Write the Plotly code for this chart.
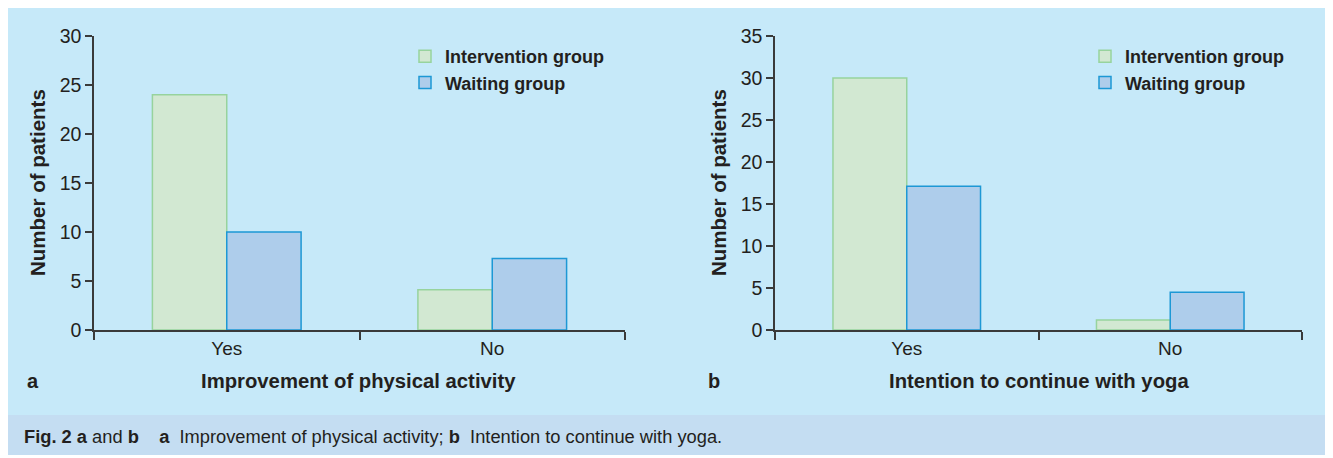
import plotly.graph_objects as go

categories = ["Yes", "No"]
a_intervention = [24, 4.1]
a_waiting = [10, 7.3]
b_intervention = [30, 1.2]
b_waiting = [17.1, 4.5]
a_yticks = [0, 5, 10, 15, 20, 25, 30]
b_yticks = [0, 5, 10, 15, 20, 25, 30, 35]

# page is offset by the default 8px body margin
OFF = 8
W, H = 1325, 450
FONT = "Liberation Sans, Arial, sans-serif"
TXT = "#231f20"
GREEN_FILL, GREEN_LINE = "#d2e8d2", "#97d39d"
BLUE_FILL, BLUE_LINE = "#aecdeb", "#1d98d5"
PANEL = "#c6e9f9"
CAPBAND = "#c4ddf2"

def px_x(x):
    return (x - OFF) / W

def px_y(y):
    return 1 - (y - OFF) / H

fig = go.Figure()

fig.add_trace(go.Bar(x=categories, y=a_intervention, name="Intervention group",
                     marker=dict(color=GREEN_FILL, line=dict(color=GREEN_LINE, width=1.5)),
                     xaxis="x", yaxis="y", legend="legend"))
fig.add_trace(go.Bar(x=categories, y=a_waiting, name="Waiting group",
                     marker=dict(color=BLUE_FILL, line=dict(color=BLUE_LINE, width=1.5)),
                     xaxis="x", yaxis="y", legend="legend"))
fig.add_trace(go.Bar(x=categories, y=b_intervention, name="Intervention group",
                     marker=dict(color=GREEN_FILL, line=dict(color=GREEN_LINE, width=1.5)),
                     xaxis="x2", yaxis="y2", legend="legend2"))
fig.add_trace(go.Bar(x=categories, y=b_waiting, name="Waiting group",
                     marker=dict(color=BLUE_FILL, line=dict(color=BLUE_LINE, width=1.5)),
                     xaxis="x2", yaxis="y2", legend="legend2"))

ydom = [px_y(330), px_y(36)]
xax = dict(type="category", showline=True, linecolor="#3a3a3a", linewidth=1.5,
           ticks="outside", tickson="boundaries", ticklen=8, tickcolor="#3a3a3a", tickwidth=1.5,
           tickfont=dict(family=FONT, size=19, color=TXT), showgrid=False, zeroline=False,
           range=[-0.5, 1.5], fixedrange=True, automargin=False)
yax = dict(showline=True, linecolor="#3a3a3a", linewidth=1.5, ticks="outside", ticklen=7,
           tickcolor="#3a3a3a", tickwidth=1.5, tickfont=dict(family=FONT, size=19.5, color=TXT),
           showgrid=False, zeroline=False, domain=ydom, automargin=False)

legfont = dict(family=FONT, size=18, color=TXT, weight="bold")
fig.update_layout(
    width=W, height=H, margin=dict(l=0, r=0, t=0, b=0, pad=0, autoexpand=False),
    paper_bgcolor="white", plot_bgcolor="white",
    barmode="group", bargap=0.44, bargroupgap=0,
    xaxis=dict(xax, domain=[px_x(94), px_x(625)], anchor="y"),
    yaxis=dict(yax, range=[0, 30], tickvals=a_yticks, anchor="x"),
    xaxis2=dict(xax, domain=[px_x(775), px_x(1302)], anchor="y2"),
    yaxis2=dict(yax, range=[0, 35], tickvals=b_yticks, anchor="x2"),
    legend=dict(x=px_x(405), y=px_y(38), xanchor="left", yanchor="top",
                bgcolor="rgba(0,0,0,0)", font=legfont,
                itemwidth=30, tracegroupgap=0, traceorder="normal"),
    legend2=dict(x=px_x(1085), y=px_y(38), xanchor="left", yanchor="top",
                 bgcolor="rgba(0,0,0,0)", font=legfont,
                 itemwidth=30, tracegroupgap=0, traceorder="normal"),
    showlegend=True,
)

# background panels
fig.add_shape(type="rect", xref="paper", yref="paper", x0=px_x(8), x1=px_x(1328),
              y0=px_y(415), y1=px_y(8), fillcolor=PANEL, line=dict(width=0), layer="below")
fig.add_shape(type="rect", xref="paper", yref="paper", x0=px_x(8), x1=px_x(1328),
              y0=px_y(455), y1=px_y(415), fillcolor=CAPBAND, line=dict(width=0), layer="below")

ann = []
def add_text(x, y, text, size, bold=False, angle=0, xanchor="center"):
    ann.append(dict(x=px_x(x), y=px_y(y), xref="paper", yref="paper", text=text,
                    showarrow=False, textangle=angle, xanchor=xanchor, yanchor="middle",
                    font=dict(family=FONT, size=size, color=TXT, weight="bold" if bold else "normal")))

add_text(38, 183, "Number of patients", 20.5, bold=True, angle=-90)
add_text(719, 183, "Number of patients", 20.5, bold=True, angle=-90)
add_text(359, 381, "Improvement of physical activity", 20.3, bold=True)
add_text(1039, 381, "Intention to continue with yoga", 20.3, bold=True)
add_text(33, 381, "a", 20, bold=True)
add_text(714, 381, "b", 20, bold=True)
add_text(22, 436, "<b>Fig. 2 a</b> and <b>b</b>    <b>a</b>  Improvement of physical activity; "
         "<b>b</b>  Intention to continue with yoga.", 18.3, xanchor="left")
fig.update_layout(annotations=ann)

fig.write_html("out.html")
